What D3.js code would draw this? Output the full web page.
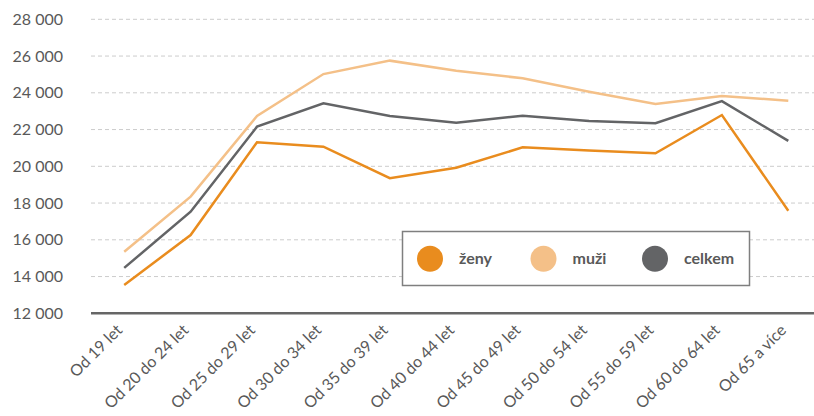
<!DOCTYPE html>
<html>
<head>
<meta charset="utf-8">
<script src="https://cdn.jsdelivr.net/npm/d3@7"></script>
<style>
  body { margin: 0; background: #fff; }
  text { font-family: Lato, "Noto Sans", sans-serif; fill: #595959; }
</style>
</head>
<body>
<div id="chart"></div>
<script>
// data
const categories = ["Od 19 let", "Od 20 do 24 let", "Od 25 do 29 let", "Od 30 do 34 let",
  "Od 35 do 39 let", "Od 40 do 44 let", "Od 45 do 49 let", "Od 50 do 54 let",
  "Od 55 do 59 let", "Od 60 do 64 let", "Od 65 a více"];
const zeny   = [13540, 16260, 21310, 21070, 19350, 19920, 21030, 20860, 20710, 22790, 17580];
const muzi   = [15350, 18350, 22740, 25020, 25750, 25200, 24790, 24060, 23390, 23830, 23570];
const celkem = [14470, 17530, 22160, 23430, 22740, 22370, 22750, 22470, 22340, 23550, 21380];
const yTicks = [12000, 14000, 16000, 18000, 20000, 22000, 24000, 26000, 28000];

const series = [
  { name: "ženy", values: zeny, color: "#e98c1e" },
  { name: "muži", values: muzi, color: "#f4c088" },
  { name: "celkem", values: celkem, color: "#636466" }
];

const W = 814, H = 416;
const svg = d3.select("#chart").append("svg")
  .attr("width", W).attr("height", H);

const x = d3.scaleBand()
  .domain(categories)
  .range([91, 821.5]);

const y = d3.scaleLinear()
  .domain([12000, 28000])
  .range([313.3, 19.3]);

const fmt = d => d3.format(",")(d).replace(",", " ");

// gridlines
svg.append("g")
  .selectAll("line")
  .data(yTicks.slice(1))
  .enter().append("line")
  .attr("x1", 91).attr("x2", W)
  .attr("y1", d => y(d)).attr("y2", d => y(d))
  .style("stroke", "#cccccc")
  .style("stroke-width", 1)
  .style("stroke-dasharray", "4,3");

// y axis labels
const yAxis = d3.axisLeft(y).tickValues(yTicks).tickFormat(fmt).tickSize(0).tickPadding(0);
const gy = svg.append("g").attr("transform", "translate(63,0)").call(yAxis);
gy.select(".domain").remove();
gy.selectAll("text").style("font-size", "16px").style("fill", "#595959");

// x axis
const xAxis = d3.axisBottom(x).tickSize(0).tickPadding(0);
const gx = svg.append("g").attr("transform", "translate(0," + y(12000) + ")").call(xAxis);
gx.select(".domain").remove();
gx.append("line")
  .attr("x1", 91).attr("x2", W)
  .attr("y1", 0).attr("y2", 0)
  .style("stroke", "#666666").style("stroke-width", 2.5);
gx.selectAll(".tick text")
  .attr("text-anchor", "end")
  .attr("x", 0).attr("y", 0).attr("dy", 0)
  .attr("transform", "translate(-1,18) rotate(-45)")
  .style("font-size", "16px").style("fill", "#595959");

// lines
const line = d3.line()
  .x((d, i) => x(categories[i]) + x.bandwidth() / 2)
  .y(d => y(d));

svg.selectAll(".series")
  .data(series)
  .enter().append("path")
  .attr("class", "series")
  .attr("d", d => line(d.values))
  .style("fill", "none")
  .style("stroke", d => d.color)
  .style("stroke-width", 2.5);

// legend
const lg = svg.append("g");
lg.append("rect")
  .attr("x", 402.5).attr("y", 231.5)
  .attr("width", 347).attr("height", 54)
  .style("fill", "#fff").style("stroke", "#7f7f7f").style("stroke-width", 1.5);

const legendX = [430, 543.5, 655];
const item = lg.selectAll(".item")
  .data(series)
  .enter().append("g")
  .attr("class", "item")
  .attr("transform", (d, i) => "translate(" + legendX[i] + ",258.7)");
item.append("circle").attr("r", 13).style("fill", d => d.color);
item.append("text")
  .attr("x", 29).attr("dy", "0.35em")
  .style("font-size", "16px").style("font-weight", "bold")
  .text(d => d.name);
</script>
</body>
</html>
